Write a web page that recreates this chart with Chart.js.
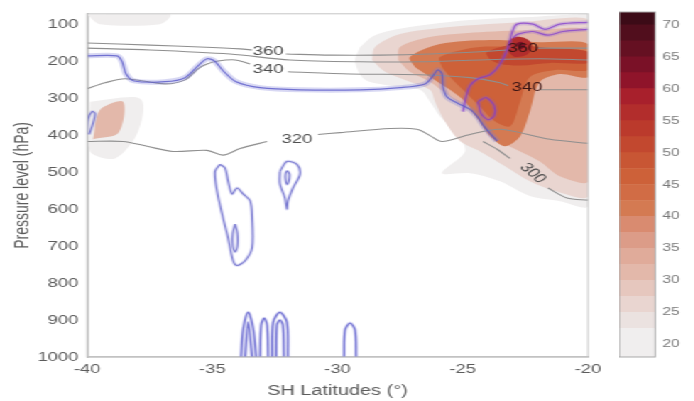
<!DOCTYPE html>
<html>
<head>
<meta charset="utf-8">
<title>SH Latitudes cross-section</title>
<script src="https://cdn.jsdelivr.net/npm/chart.js@4.4.1/dist/chart.umd.min.js"></script>
<style>
  body { margin: 0; background: #fff; overflow: hidden; }
  /* the original figure is stretched sideways, scaleX copies that */
  #figure { position: relative; width: 489px; height: 401px; transform: scaleX(1.42); transform-origin: 0 0; }
  #section { position: absolute; left: 0; top: 0; }
  #colorbar { position: absolute; left: 436px; top: 0; }
</style>
</head>
<body>
<div id="figure">
  <canvas id="section" width="489" height="401"></canvas>
  <canvas id="colorbar" width="53" height="401"></canvas>
</div>
<script>
Chart.defaults.font.family = '"Liberation Sans", Arial, sans-serif';
Chart.defaults.color = '#5c5c5c';

// Axis ticks
const xTicks = [-40, -35, -30, -25, -20];
const yTicks = [100, 200, 300, 400, 500, 600, 700, 800, 900, 1000];

// Colour bar levels
const cbEdges = [18, 22.5, 25, 27.5, 30, 32.5, 35, 37.5, 40, 42.5, 45, 47.5, 50, 52.5, 55, 57.5, 60, 62.5, 65, 67.5, 70, 72];
const cbColors = ['#f0eeee', '#ebe2e0', '#e9d5d0', '#e6c7be', '#e3b8aa', '#e0ab9a', '#dc9c88', '#d98b70',
  '#d47a52', '#d16c45', '#cd6139', '#c85634', '#c2482f', '#bb3a2c', '#b22d2c', '#a8202c',
  '#8f142a', '#7a1127', '#651022', '#510e1d', '#3c0b17'];
const cbTicks = [20, 25, 30, 35, 40, 45, 50, 55, 60, 65, 70];

// Shaded field (latitude, hPa), null separates patches
const f20Lat = [-29.10, -28.50, -27.11, -24.71, -21.92, -20, -20, -21.12, -22.32, -23.51, -24.71, -25.83, -24.91, -25.31, -25.91, -26.31, -26.71, -27.90, -28.90, -29.30, -29.10,
  null, -39.88, -37.88, -37.96, -38.88, -39.88, -39.88,
  null, -40, -36.69, -37.09, -39.48, -40];
const f20P = [160, 128, 106, 87, 77, 71, 591, 578, 564, 524, 502, 502, 443, 389, 348, 308, 276, 265, 249, 200, 160,
  null, 308, 300, 389, 462, 443, 308,
  null, 71, 71, 98, 98, 71];

const f25Lat = [-28.62, -28.50, -27.50, -25.51, -22.71, -20, -20, -21.32, -22.32, -23.31, -24.31, -25.11, -25.71, -26.11, -26.31, -27.11, -28.10, -28.62];
const f25P = [195, 160, 125, 106, 93, 87, 564, 550, 524, 483, 443, 415, 362, 308, 276, 254, 227, 195];

const f30Lat = [-27.58, -27.50, -26.31, -24.31, -21.92, -20, -20, -21.12, -21.92, -22.71, -23.51, -24.11, -24.71, -25.51, -26.31, -27.11, -27.58,
  null, -39.76, -39.48, -38.56, -38.76, -39.76];
const f30P = [195, 160, 133, 120, 114, 120, 524, 510, 470, 443, 415, 375, 335, 295, 254, 227, 195,
  null, 410, 330, 308, 394, 410];

const f40Lat = [-26.91, -27.11, -25.91, -23.91, -21.92, -20, -20, -21.12, -21.92, -22.32, -22.71, -23.31, -23.91, -24.39, -24.91, -25.51, -26.31, -26.91];
const f40P = [214, 187, 152, 141, 147, 152, 241, 233, 254, 335, 402, 429, 402, 357, 308, 276, 241, 214];

const f45Lat = [-25.83, -25.91, -24.31, -21.92, -20, -20, -21.32, -22.32, -22.71, -23.11, -23.71, -24.31, -24.91, -25.51, -25.83];
const f45P = [214, 187, 160, 165, 173, 222, 222, 241, 308, 375, 362, 322, 281, 241, 214];

const f50Lat = [-23.90, -24.05, -23.11, -21.52, -20, -20, -21.52, -22.71, -23.51, -23.90];
const f50P = [195, 175, 155, 163, 173, 203, 203, 210, 206, 195];

const f57Lat = [-23.19, -23.19, -22.91, -22.51, -22.24, -22.40, -22.91, -23.19];
const f57P = [173, 147, 133, 136, 152, 179, 187, 173];

const f65Lat = [-22.88, -22.66, -22.50, -22.72, -22.88];
const f65P = [150, 146, 157, 166, 150];

// Potential temperature contours (grey)
const th360Lat = [-40, -37.49, -35.49, -33.89, -33.41, null, -32.06, -30.30, -28.30, -26.31, -24.31, -23.23, null, -22.00, -20];
const th360P = [149, 155, 160, 165, 168, null, 179, 182, 182, 179, 173, 168, null, 163, 163];
const th350Lat = [-40, -37.49, -34.29, -31.90, -29.10, -26.71, -24.31, -21.92, -20];
const th350P = [163, 168, 179, 195, 200, 200, 195, 192, 195];
const th340Lat = [-40, -39.28, -38.48, -36.89, -36.09, -35.57, -35.21, -34.77, -34.09, -33.49, null, -31.98, -29.50, -26.71, -24.71, -23.51, -23.19, null, -21.92, -20];
const th340P = [273, 257, 246, 260, 249, 219, 206, 198, 195, 206, null, 227, 233, 235, 243, 257, 265, null, 276, 276];
const th320Lat = [-40, -38.56, -37.60, -36.57, -35.21, -34.57, -33.89, -32.81, null, -30.78, -29.90, -27.90, -26.83, -26.31, -25.83, -24.71, -23.51, -21.52, -20];
const th320P = [416, 416, 429, 443, 440, 453, 435, 416, null, 397, 392, 381, 383, 400, 416, 397, 383, 410, 421];
const th300Lat = [-24.19, -23.63, -23.11, null, -21.60, -20.84, -20];
const th300P = [416, 437, 462, null, 542, 569, 575];

// Contour labels
const labelText = ['360', '340', '320', '300', '360', '340'];
const labelLat = [-32.77, -32.77, -31.62, -22.20, -22.60, -22.44];
const labelP = [173, 222, 410, 502, 164, 270];
const labelAngle = [0, 0, 0, 50, 0, 0];
const labelDark = [false, false, false, false, true, true];

// Blue contours
const pvMainLat = [-40, -38.80, -38.60, -38.44, -38.12, -36.89, -36.09, -35.57, -35.21, -34.93, -34.53, -34.05, -33.09, -31.50,
  -29.10, -27.50, -26.51, -26.19, -25.99, -25.83, -25.79, -25.63, -25.19, -24.71, -24.39, -24.15, -23.91, -23.63];
const pvMainP = [184, 184, 200, 233, 252, 254, 243, 211, 192, 197, 227, 254, 270, 276,
  276, 270, 260, 238, 222, 233, 268, 295, 313, 329, 351, 375, 394, 415];
const pvUpLat = [-24.99, -24.87, -24.71, -24.39, -23.91, -23.51, -23.19, -23.03, -22.83, -22.20, -21.72, -21.12, -20,
  null, -23.0, -22.8, -22.2, -21.6, -21.0, -20,
  null, -24.39, -24.07, -23.75, -23.75, -23.99, -24.27, -24.39];
const pvUpP = [335, 295, 265, 246, 235, 206, 160, 120, 98, 98, 112, 98, 93,
  null, 135, 125, 118, 128, 118, 112,
  null, 308, 297, 319, 346, 357, 340, 308];
const pvMidLat = [-34.69, -34.89, -34.81, -34.57, -34.37, -34.17, -34.01, -33.69, -33.41, -33.41, -33.49, -33.77, -34.01, -34.21, -34.37, -34.49, -34.69,
  null, -34.09, -34.00, -34.00, -34.09, -34.18, -34.18, -34.09,
  null, -32.30, -32.02, -31.62, -31.50, -31.78, -31.98, -32.02, -32.10, -32.30, -32.30,
  null, -32.00, -31.92, -31.95, -32.02, -32.08, -32.06, -32.00,
  null, -40, -39.96, -39.80, -39.68, -39.76, -39.92];
const pvMidP = [478, 497, 551, 623, 677, 739, 752, 739, 704, 623, 577, 558, 542, 558, 523, 488, 478,
  null, 640, 665, 700, 715, 700, 665, 640,
  null, 497, 470, 478, 505, 542, 577, 599, 569, 531, 497,
  null, 495, 505, 525, 532, 515, 500, 495,
  null, 397, 356, 335, 340, 367, 397];
const pvLowLat = [-33.85, -33.77, -33.57, -33.37, -33.25, null, -33.69, -33.57, -33.41,
  null, -33.09, -33.05, -32.93, -32.81, -32.77,
  null, -32.61, -32.57, -32.30, -32.02, -31.98, null, -32.45, -32.42, -32.30, -32.18, -32.14,
  null, -29.74, -29.70, -29.50, -29.30, -29.26];
const pvLowP = [1000, 927, 879, 922, 1000, null, 1000, 906, 1000,
  null, 1000, 914, 895, 914, 1000,
  null, 1000, 906, 879, 906, 1000, null, 1000, 914, 900, 914, 1000,
  null, 1000, 927, 908, 927, 1000];

function pts(lats, ps) {
  return lats.map((v, i) => ({ x: v, y: ps[i] }));
}

function levelColor(v) {
  const i = cbEdges.findIndex(e => e > v) - 1;
  return cbColors[Math.max(0, i)];
}

function shade(lats, ps, level) {
  return { data: pts(lats, ps), showLine: true, fill: 'shape', backgroundColor: levelColor(level),
    borderWidth: 0, pointRadius: 0, tension: 0.3, order: 100 - level };
}

function contour(lats, ps, color, width, order) {
  return { data: pts(lats, ps), showLine: true, fill: false, borderColor: color, borderWidth: width,
    pointRadius: 0, tension: 0.3, order: order };
}

// Box round the plot area
const frame = {
  id: 'frame',
  afterDatasetsDraw(chart, args, opts) {
    const { ctx, chartArea: a } = chart;
    ctx.save();
    ctx.strokeStyle = opts.color;
    ctx.lineWidth = opts.width;
    ctx.strokeRect(a.left, a.top, a.right - a.left, a.bottom - a.top);
    ctx.restore();
  }
};

// Labels written on the theta contours
const contourLabels = {
  id: 'contourLabels',
  afterDatasetsDraw(chart) {
    const { ctx, scales: { x, y } } = chart;
    ctx.save();
    ctx.font = '13px "Liberation Sans", Arial, sans-serif';
    ctx.textAlign = 'center';
    ctx.textBaseline = 'middle';
    labelText.forEach((t, i) => {
      ctx.save();
      ctx.translate(x.getPixelForValue(labelLat[i]), y.getPixelForValue(labelP[i]));
      ctx.rotate(labelAngle[i] * Math.PI / 180);
      ctx.fillStyle = labelDark[i] ? '#3a1414' : '#4e4e4e';
      ctx.fillText(t, 0, 0);
      ctx.restore();
    });
    ctx.restore();
  }
};

// Chart 1: latitude-pressure section
const grey = '#8f8f8f';
new Chart(document.getElementById('section'), {
  type: 'scatter',
  data: {
    datasets: [
      contour(pvMainLat, pvMainP, 'rgba(88, 88, 200, 0.8)', 1.2, 0),
      contour(pvMainLat, pvMainP, 'rgba(125, 125, 215, 0.3)', 5, 1),
      contour(pvUpLat, pvUpP, 'rgba(130, 60, 205, 0.75)', 1.2, 0),
      contour(pvUpLat, pvUpP, 'rgba(140, 90, 220, 0.25)', 4, 1),
      contour(pvMidLat, pvMidP, 'rgba(100, 100, 200, 0.8)', 1.1, 0),
      contour(pvMidLat, pvMidP, 'rgba(130, 130, 220, 0.25)', 3, 1),
      contour(pvLowLat, pvLowP, 'rgba(95, 95, 205, 0.8)', 1.3, 0),
      contour(pvLowLat, pvLowP, 'rgba(130, 130, 220, 0.3)', 3, 1),
      contour(th360Lat, th360P, grey, 1.1, 2),
      contour(th350Lat, th350P, grey, 1.1, 2),
      contour(th340Lat, th340P, grey, 1.1, 2),
      contour(th320Lat, th320P, grey, 1.1, 2),
      contour(th300Lat, th300P, grey, 1.1, 2),
      shade(f65Lat, f65P, 62.5),
      shade(f57Lat, f57P, 55),
      shade(f50Lat, f50P, 50),
      shade(f45Lat, f45P, 45),
      shade(f40Lat, f40P, 40),
      shade(f30Lat, f30P, 30),
      shade(f25Lat, f25P, 25),
      shade(f20Lat, f20P, 20)
    ]
  },
  options: {
    responsive: false,
    animation: false,
    events: [],
    layout: { padding: { top: 12, right: 74.9, bottom: 0, left: 0 } },
    plugins: {
      legend: { display: false },
      tooltip: { enabled: false },
      frame: { color: '#c6c6c6', width: 1 }
    },
    scales: {
      x: {
        type: 'linear', min: -40, max: -20,
        afterBuildTicks: s => { s.ticks = xTicks.map(v => ({ value: v })); },
        afterFit: s => { s.height = 44; },
        ticks: { font: { size: 13 }, padding: 5 },
        grid: { display: false, drawTicks: false },
        border: { color: '#bdbdbd', width: 1.6 },
        title: { display: true, text: 'SH Latitudes (°)', font: { size: 14 }, padding: { top: 0, bottom: 1 } }
      },
      y: {
        type: 'linear', reverse: true, min: 70, max: 1000,
        afterBuildTicks: s => { s.ticks = yTicks.map(v => ({ value: v })); },
        afterFit: s => { s.width = 61.3; },
        ticks: { font: { size: 13 }, padding: 6, callback: v => String(v) },
        grid: { display: false, drawTicks: false },
        border: { color: '#bdbdbd', width: 1.6 },
        title: { display: true, text: 'Pressure level (hPa)', font: { size: 14 }, padding: { top: 8, bottom: 0 } }
      }
    }
  },
  plugins: [frame, contourLabels]
});

// Chart 2: colour bar
new Chart(document.getElementById('colorbar'), {
  type: 'bar',
  data: {
    labels: [''],
    datasets: cbColors.map((c, i) => ({
      data: [[cbEdges[i], cbEdges[i + 1]]],
      backgroundColor: c,
      borderWidth: 0,
      barPercentage: 1,
      categoryPercentage: 1,
      grouped: false
    }))
  },
  options: {
    responsive: false,
    animation: false,
    events: [],
    layout: { padding: { top: 12, bottom: 44, left: 0, right: 0 } },
    plugins: {
      legend: { display: false },
      tooltip: { enabled: false },
      frame: { color: '#a9a9a9', width: 1 }
    },
    scales: {
      x: { display: false },
      y: {
        position: 'right', min: 18, max: 72,
        afterBuildTicks: s => { s.ticks = cbTicks.map(v => ({ value: v })); },
        afterFit: s => { s.width = 27.6; },
        ticks: { font: { size: 11 }, color: '#7a7a7a', padding: 5 },
        grid: { display: false, drawTicks: false },
        border: { display: false }
      }
    }
  },
  plugins: [frame]
});
</script>
</body>
</html>
